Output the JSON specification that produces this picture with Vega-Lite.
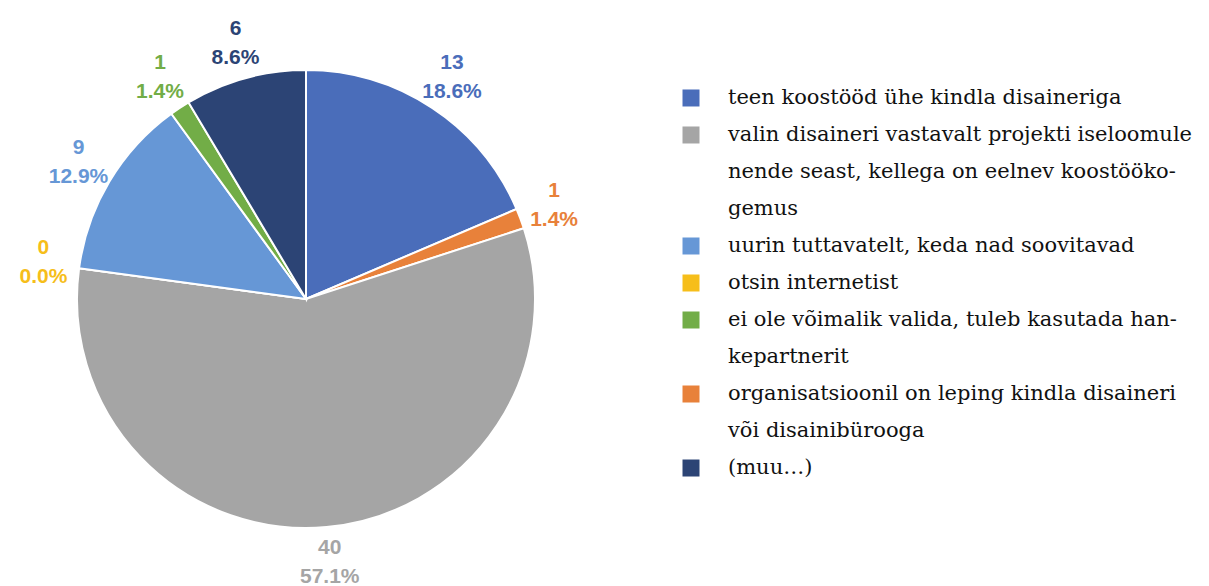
{
  "$schema": "https://vega.github.io/schema/vega-lite/v6.json",
  "padding": {"left": 0, "top": 6, "right": 0, "bottom": 0},
  "background": "white",
  "config": {"view": {"stroke": null}, "concat": {"spacing": 0}},
  "datasets": {
    "pie": [
      {"cat": "teen koostööd ühe kindla disaineriga", "count": 13, "pct": "18.6%", "ord": 1},
      {"cat": "organisatsioonil on leping kindla disaineri või disainibürooga", "count": 1, "pct": "1.4%", "ord": 2},
      {"cat": "valin disaineri vastavalt projekti iseloomule nende seast, kellega on eelnev koostöökogemus", "count": 40, "pct": "57.1%", "ord": 3},
      {"cat": "otsin internetist", "count": 0, "pct": "0.0%", "ord": 4},
      {"cat": "uurin tuttavatelt, keda nad soovitavad", "count": 9, "pct": "12.9%", "ord": 5},
      {"cat": "ei ole võimalik valida, tuleb kasutada hankepartnerit", "count": 1, "pct": "1.4%", "ord": 6},
      {"cat": "(muu…)", "count": 6, "pct": "8.6%", "ord": 7}
    ],
    "legend": [
      {"line": 1, "text": "teen koostööd ühe kindla disaineriga", "cat": "teen koostööd ühe kindla disaineriga"},
      {"line": 2, "text": "valin disaineri vastavalt projekti iseloomule", "cat": "valin disaineri vastavalt projekti iseloomule nende seast, kellega on eelnev koostöökogemus"},
      {"line": 3, "text": "nende seast, kellega on eelnev koostööko-", "cat": null},
      {"line": 4, "text": "gemus", "cat": null},
      {"line": 5, "text": "uurin tuttavatelt, keda nad soovitavad", "cat": "uurin tuttavatelt, keda nad soovitavad"},
      {"line": 6, "text": "otsin internetist", "cat": "otsin internetist"},
      {"line": 7, "text": "ei ole võimalik valida, tuleb kasutada han-", "cat": "ei ole võimalik valida, tuleb kasutada hankepartnerit"},
      {"line": 8, "text": "kepartnerit", "cat": null},
      {"line": 9, "text": "organisatsioonil on leping kindla disaineri", "cat": "organisatsioonil on leping kindla disaineri või disainibürooga"},
      {"line": 10, "text": "või disainibürooga", "cat": null},
      {"line": 11, "text": "(muu…)", "cat": "(muu…)"}
    ]
  },
  "hconcat": [
    {
      "width": 612,
      "height": 586,
      "data": {"name": "pie"},
      "encoding": {
        "theta": {"field": "count", "type": "quantitative", "stack": true},
        "order": {"field": "ord", "type": "quantitative"},
        "color": {
          "field": "cat",
          "type": "nominal",
          "legend": null,
          "scale": {
            "domain": [
              "teen koostööd ühe kindla disaineriga",
              "valin disaineri vastavalt projekti iseloomule nende seast, kellega on eelnev koostöökogemus",
              "uurin tuttavatelt, keda nad soovitavad",
              "otsin internetist",
              "ei ole võimalik valida, tuleb kasutada hankepartnerit",
              "organisatsioonil on leping kindla disaineri või disainibürooga",
              "(muu…)"
            ],
            "range": ["#4A6DBA", "#A5A5A5", "#6697D6", "#F6BE1A", "#72AD47", "#E8813A", "#2C4475"]
          }
        }
      },
      "layer": [
        {"mark": {"type": "arc", "outerRadius": 229, "stroke": "white", "strokeWidth": 2}},
        {
          "mark": {"type": "text", "radius": 265, "dy": -15, "font": "Liberation Sans", "fontWeight": "bold", "fontSize": 21},
          "encoding": {"text": {"field": "count", "type": "quantitative"}}
        },
        {
          "mark": {"type": "text", "radius": 265, "dy": 14, "font": "Liberation Sans", "fontWeight": "bold", "fontSize": 21},
          "encoding": {"text": {"field": "pct", "type": "nominal"}}
        }
      ]
    },
    {
      "width": 597,
      "height": 586,
      "data": {"name": "legend"},
      "encoding": {
        "y": {
          "field": "line",
          "type": "quantitative",
          "axis": null,
          "scale": {"domain": [-1.486, 14.351], "reverse": true, "nice": false, "zero": false}
        }
      },
      "layer": [
        {
          "transform": [{"filter": "datum.cat != null"}],
          "mark": {"type": "square", "size": 289, "opacity": 1, "filled": true},
          "encoding": {
            "x": {"value": 79},
            "color": {"field": "cat", "type": "nominal", "legend": null}
          }
        },
        {
          "mark": {"type": "text", "align": "left", "baseline": "middle", "font": "DejaVu Serif", "fontSize": 21, "color": "#111111"},
          "encoding": {
            "x": {"value": 116},
            "text": {"field": "text", "type": "nominal"}
          }
        }
      ]
    }
  ]
}
